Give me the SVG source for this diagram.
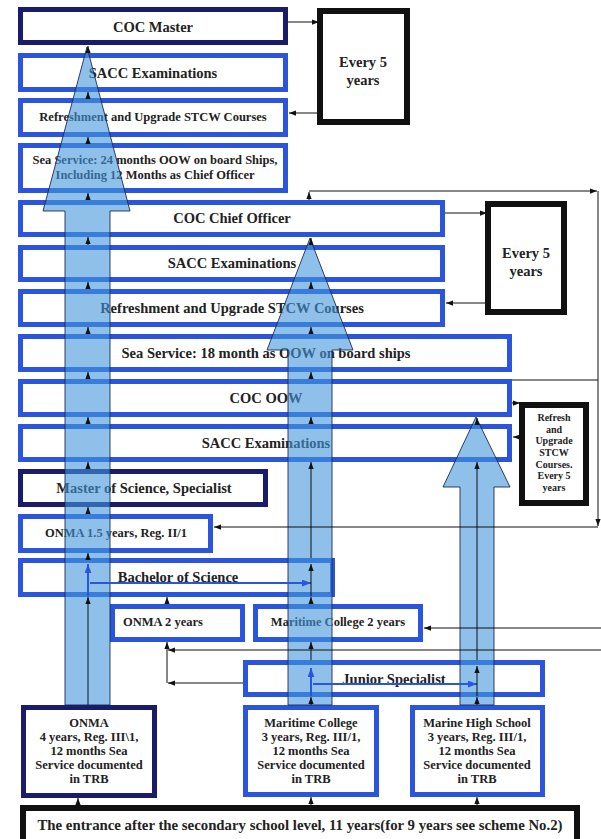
<svg xmlns="http://www.w3.org/2000/svg" width="601" height="839" viewBox="0 0 601 839">
<style>
text{font-family:"Liberation Serif","Times New Roman",serif;font-weight:bold;fill:#222;text-anchor:middle}
.b{fill:#fff;stroke:#2a55dc;stroke-width:5}
.n{fill:#fff;stroke:#1b1b6b;stroke-width:5}
.k{fill:#fff;stroke:#111;stroke-width:6}
.t14{font-size:14.5px}
.t12{font-size:12.5px}
.t10{font-size:10px}
.big{fill:#4396dc;fill-opacity:0.6;stroke:#1c2a55;stroke-width:0.9}
.c{fill:none;stroke:#111;stroke-width:1;marker-end:url(#ah)}
.cn{fill:none;stroke:#111;stroke-width:1}
.cb{fill:none;stroke:#2a55dc;stroke-width:2;marker-end:url(#ahb)}
</style>
<defs>
<marker id="ah" viewBox="0 0 8 6" refX="8" refY="3" markerWidth="7" markerHeight="6" orient="auto" markerUnits="userSpaceOnUse"><path d="M0,0 L8,3 L0,6 Z" fill="#111"/></marker>
<marker id="ahb" viewBox="0 0 8 6" refX="8" refY="3" markerWidth="9" markerHeight="7" orient="auto" markerUnits="userSpaceOnUse"><path d="M0,0 L8,3 L0,6 Z" fill="#2a55dc"/></marker>
</defs>
<rect width="601" height="839" fill="#fff"/>

<g id="coc-master"><rect class="n" x="20.5" y="9.5" width="265" height="33"/><text class="t14" x="153" y="32">COC Master</text></g>
<g id="sacc-1"><rect class="b" x="20.5" y="55.5" width="265" height="34"/><text class="t14" x="153" y="78">SACC Examinations</text></g>
<g id="refresh-1"><rect class="b" x="20.5" y="100.5" width="265" height="34"/><text class="t12" x="153" y="121">Refreshment and Upgrade STCW Courses</text></g>
<g id="sea-24"><rect class="b" x="20.5" y="145.5" width="265" height="45"/><text class="t12" x="155" y="164">Sea Service: 24 months OOW on board Ships,</text><text class="t12" x="155" y="179">Including 12 Months as Chief Officer</text></g>
<g id="every5-1"><rect class="k" x="320" y="11" width="87" height="111"/><text class="t14" x="363" y="67">Every 5</text><text class="t14" x="363" y="85">years</text></g>

<g id="coc-chief"><rect class="b" x="20.5" y="202.5" width="422" height="32"/><text class="t14" x="232" y="223">COC Chief Officer</text></g>
<g id="sacc-2"><rect class="b" x="20.5" y="247.5" width="422" height="32"/><text class="t14" x="232" y="268">SACC Examinations</text></g>
<g id="refresh-2"><rect class="b" x="20.5" y="291.5" width="422" height="33"/><text class="t14" x="232" y="313">Refreshment and Upgrade STCW Courses</text></g>
<g id="every5-2"><rect class="k" x="488" y="204" width="76" height="108"/><text class="t14" x="526" y="258">Every 5</text><text class="t14" x="526" y="276">years</text></g>

<g id="sea-18"><rect class="b" x="20.5" y="336.5" width="489" height="33"/><text class="t14" x="266" y="358">Sea Service: 18 month as OOW on board ships</text></g>
<g id="coc-oow"><rect class="b" x="20.5" y="381.5" width="489" height="33"/><text class="t14" x="266" y="403">COC OOW</text></g>
<g id="sacc-3"><rect class="b" x="20.5" y="426.5" width="489" height="33"/><text class="t14" x="266" y="448">SACC Examinations</text></g>
<g id="refresh-box"><rect class="k" x="522" y="405" width="64" height="98"/>
<text class="t10" x="554" y="421">Refresh</text><text class="t10" x="554" y="433">and</text><text class="t10" x="554" y="444">Upgrade</text><text class="t10" x="554" y="456">STCW</text><text class="t10" x="554" y="468">Courses.</text><text class="t10" x="554" y="479">Every 5</text><text class="t10" x="554" y="491">years</text></g>

<g id="msc"><rect class="n" x="20.5" y="471.5" width="245" height="33"/><text class="t14" x="144" y="493">Master of Science, Specialist</text></g>
<g id="onma-15"><rect class="b" x="20.5" y="516.5" width="190" height="34"/><text class="t12" x="116" y="537">ONMA 1.5 years, Reg. II/1</text></g>
<g id="bachelor"><rect class="b" x="20.5" y="560.5" width="312" height="34"/><text class="t14" x="178" y="582">Bachelor of Science</text></g>
<g id="onma-2"><rect class="b" x="112.5" y="606.5" width="130" height="33"/><text class="t12" x="123" y="626" style="text-anchor:start">ONMA 2 years</text></g>
<g id="mc-2"><rect class="b" x="255.5" y="606.5" width="165" height="33"/><text class="t12" x="338" y="626">Maritime College 2 years</text></g>
<g id="junior"><rect class="b" x="245.5" y="662.5" width="297" height="32"/><text class="t14" x="394" y="684">Junior Specialist</text></g>

<g id="onma-4"><rect class="n" x="23.5" y="707.5" width="131" height="88"/>
<text class="t12" x="89" y="727">ONMA</text><text class="t12" x="89" y="741">4 years, Reg. III\1,</text><text class="t12" x="89" y="755">12 months Sea</text><text class="t12" x="89" y="769">Service documented</text><text class="t12" x="89" y="783">in TRB</text></g>
<g id="mc-3"><rect class="b" x="245.5" y="707.5" width="131" height="87"/>
<text class="t12" x="311" y="727">Maritime College</text><text class="t12" x="311" y="741">3 years, Reg. III/1,</text><text class="t12" x="311" y="755">12 months Sea</text><text class="t12" x="311" y="769">Service documented</text><text class="t12" x="311" y="783">in TRB</text></g>
<g id="mhs"><rect class="b" x="412.5" y="707.5" width="130" height="87"/>
<text class="t12" x="477" y="727">Marine High School</text><text class="t12" x="477" y="741">3 years, Reg. III/1,</text><text class="t12" x="477" y="755">12 months Sea</text><text class="t12" x="477" y="769">Service documented</text><text class="t12" x="477" y="783">in TRB</text></g>
<g id="entrance"><rect class="k" x="23" y="808" width="554" height="34"/><text x="300" y="830" style="font-size:14.8px">The entrance after the secondary school level, 11 years(for 9 years see scheme No.2)</text></g>

<g id="flow-arrows">
<polygon class="big" points="87,47 130,211 110,211 110,705 65,705 65,211 43,211"/>
<polygon class="big" points="310,238 353,350 332,350 332,705 288,705 288,350 267,350"/>
<polygon class="big" points="476,417 510,487 494,487 494,705 460,705 460,487 443,487"/>
</g>

<g id="connectors">
<path class="c" d="M88,53 V46"/><path class="c" d="M88,98 V92"/><path class="c" d="M88,143 V137"/><path class="c" d="M88,200 V193"/>
<path class="c" d="M88,245 V237"/><path class="c" d="M88,289 V282"/><path class="c" d="M88,334 V327"/><path class="c" d="M88,379 V372"/>
<path class="c" d="M88,424 V417"/><path class="c" d="M88,469 V462"/><path class="c" d="M88,514 V507"/><path class="c" d="M88,558 V553"/>
<path class="c" d="M88,705 V597"/>
<path class="cb" d="M88,596 V564"/><path class="cb" d="M90,583 H311"/>
<path class="c" d="M78,806 V798"/>
<path class="c" d="M311,245 V238"/><path class="c" d="M311,289 V282"/><path class="c" d="M311,334 V327"/><path class="c" d="M311,379 V372"/><path class="c" d="M311,424 V417"/>
<path class="c" d="M311,558 V462"/><path class="c" d="M311,596 V564"/><path class="c" d="M311,604 V597"/><path class="c" d="M311,660 V642"/><path class="c" d="M311,705 V697"/>
<path class="cb" d="M311,696 V668"/><path class="cb" d="M313,684 H477"/>
<path class="c" d="M311,806 V797"/>
<path class="c" d="M477,424 V418"/><path class="c" d="M477,660 V462"/><path class="c" d="M477,696 V666"/><path class="c" d="M477,705 V697"/>
<path class="c" d="M477,806 V797"/>
<path class="c" d="M167,604 V597"/><path class="c" d="M167,683 V642"/><path class="c" d="M243,683 H168"/><path class="c" d="M601,650 H168"/>
<path class="c" d="M601,628 H424"/>
<path class="c" d="M288,22 H319"/><path class="c" d="M319,113 H289"/>
<path class="c" d="M445,213 H487"/><path class="c" d="M487,303 H446"/>
<path class="c" d="M512,403 H520"/><path class="c" d="M520,437 H513"/>
<path class="c" d="M309,200 V192"/><path class="c" d="M309,191 H597"/><path class="c" d="M598,191 V526"/><path class="c" d="M598,527 H214"/>
<path class="cn" d="M512,380 H598"/>
</g>
</svg>
